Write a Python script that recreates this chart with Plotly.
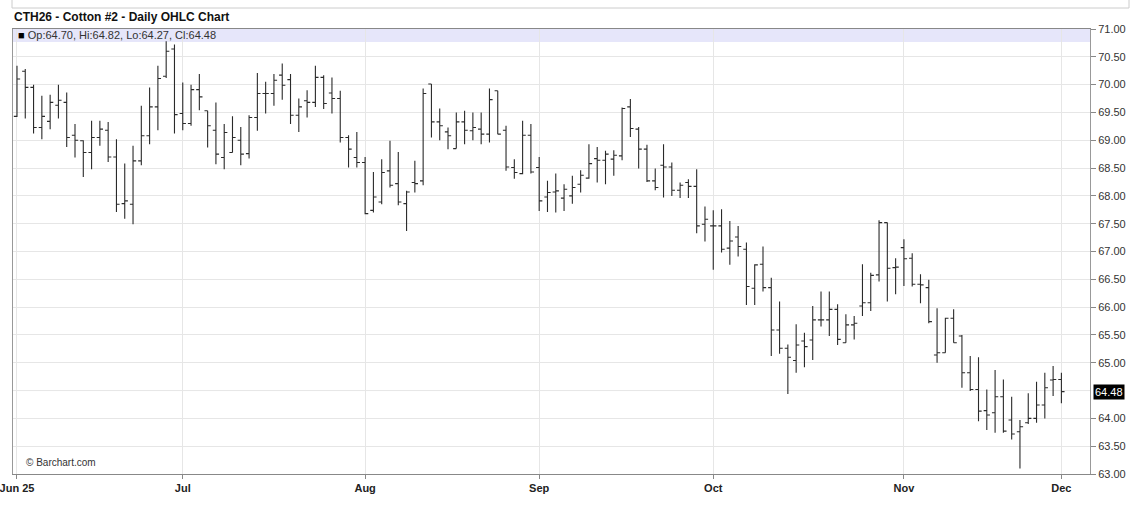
import pandas as pd
import plotly.graph_objects as go

# ---- data -------------------------------------------------------------
holidays = ["2025-06-19", "2025-07-04", "2025-09-01", "2025-11-27"]
dates = [d.strftime("%Y-%m-%d") for d in pd.bdate_range("2025-06-02", "2025-12-01")
         if d.strftime("%Y-%m-%d") not in holidays]

opens = [69.43, 70.24, 69.95, 69.23, 69.34, 69.63, 69.68, 69.09, 68.99, 68.78,
         69.05, 69.18, 68.70, 67.86, 67.85, 68.63, 69.08, 69.60, 70.15, 70.64,
         69.48, 69.30, 69.91, 69.53, 69.18, 68.69, 68.78, 69.00, 68.76, 69.41,
         69.84, 69.84, 70.17, 70.09, 69.45, 69.71, 69.68, 70.13, 69.85, 69.75,
         69.05, 68.69, 68.60, 67.74, 67.89, 68.45, 68.22, 67.86, 68.24, 68.27,
         70.01, 69.33, 69.15, 68.85, 69.33, 69.17, 69.20, 69.11, 69.89, 69.18,
         68.51, 68.40, 69.09, 68.51, 67.98, 68.07, 67.96, 68.00, 68.21, 68.32,
         68.67, 68.64, 68.66, 68.72, 69.60, 69.20, 68.84, 68.27, 68.55, 68.52,
         68.10, 68.24, 68.17, 67.49, 67.46, 67.46, 67.06, 67.26, 67.04, 66.34,
         66.77, 66.35, 65.59, 65.26, 65.04, 65.39, 65.41, 65.77, 65.77, 65.96,
         65.36, 65.68, 66.02, 66.08, 66.58, 67.52, 66.71, 67.07, 66.88, 66.41,
         66.35, 65.14, 65.18, 65.80, 65.48, 64.82, 64.52, 64.14, 64.10, 64.39,
         63.97, 63.76, 63.92, 64.00, 64.24, 64.69, 64.70]

highs = [70.34, 70.28, 70.00, 69.80, 69.82, 70.00, 69.86, 69.29, 69.00, 69.35,
         69.35, 69.33, 69.02, 68.58, 68.90, 69.62, 69.95, 70.34, 70.78, 70.72,
         70.04, 70.00, 70.19, 69.53, 69.68, 69.29, 69.43, 69.24, 69.45, 70.21,
         70.05, 70.19, 70.38, 70.19, 69.75, 69.90, 70.34, 70.17, 70.13, 69.89,
         69.09, 69.15, 68.70, 68.43, 68.66, 68.99, 68.79, 68.09, 68.63, 69.93,
         70.01, 69.57, 69.23, 69.50, 69.53, 69.50, 69.50, 69.93, 69.89, 69.26,
         68.66, 69.35, 69.29, 68.70, 68.27, 68.40, 68.21, 68.36, 68.46, 68.93,
         68.88, 68.81, 68.82, 69.59, 69.74, 69.24, 68.92, 68.49, 68.93, 68.60,
         68.24, 68.30, 68.48, 67.81, 67.74, 67.76, 67.55, 67.46, 67.16, 66.77,
         67.09, 66.53, 66.10, 65.33, 65.69, 65.54, 66.02, 66.28, 66.28, 66.05,
         65.87, 65.84, 66.77, 66.62, 67.56, 67.52, 66.88, 67.22, 66.97, 66.59,
         66.49, 65.98, 65.81, 65.96, 65.50, 65.12, 65.10, 64.52, 64.87, 64.70,
         64.39, 63.97, 64.45, 64.66, 64.82, 64.94, 64.82]

lows = [69.42, 69.39, 69.12, 69.02, 69.20, 69.39, 68.88, 68.69, 68.34, 68.48,
        68.90, 68.61, 67.71, 67.59, 67.49, 68.55, 68.93, 69.18, 70.12, 69.12,
        69.18, 69.26, 69.54, 68.87, 68.57, 68.48, 68.78, 68.55, 68.67, 69.17,
        69.48, 69.62, 69.73, 69.29, 69.15, 69.41, 69.60, 69.56, 69.48, 68.96,
        68.51, 68.51, 67.67, 67.70, 67.85, 68.15, 67.83, 67.37, 68.06, 68.19,
        69.05, 69.00, 68.84, 68.85, 68.93, 69.00, 68.93, 68.96, 69.11, 68.45,
        68.31, 68.39, 68.40, 67.73, 67.71, 67.70, 67.73, 67.86, 68.06, 68.31,
        68.24, 68.21, 68.36, 68.64, 69.06, 68.49, 68.25, 68.10, 67.97, 68.00,
        67.96, 67.96, 67.33, 67.18, 66.67, 66.98, 66.76, 66.91, 66.04, 66.04,
        66.28, 65.12, 65.16, 64.44, 64.82, 64.92, 65.05, 65.65, 65.48, 65.32,
        65.36, 65.42, 65.84, 65.93, 66.46, 66.10, 66.23, 66.38, 66.37, 66.07,
        65.71, 65.00, 65.18, 65.36, 64.55, 64.49, 63.95, 63.79, 63.74, 63.74,
        63.62, 63.10, 63.90, 63.92, 64.00, 64.40, 64.27]

closes = [70.10, 69.95, 69.23, 69.43, 69.68, 69.72, 69.05, 69.00, 68.78, 69.05,
          69.20, 68.70, 67.85, 67.91, 68.63, 69.08, 69.60, 70.11, 70.60, 69.46,
          69.30, 69.91, 69.78, 69.26, 68.75, 69.14, 69.05, 68.75, 69.41, 69.84,
          69.84, 70.08, 69.99, 69.45, 69.60, 69.68, 70.13, 69.66, 69.75, 69.05,
          68.84, 68.60, 67.68, 67.98, 68.42, 68.19, 67.89, 68.07, 68.22, 69.84,
          69.33, 69.26, 69.08, 69.33, 69.18, 69.23, 69.11, 69.73, 69.11, 68.52,
          68.42, 69.09, 68.43, 67.91, 68.06, 68.09, 68.12, 68.15, 68.37, 68.58,
          68.64, 68.75, 68.73, 69.57, 69.21, 68.84, 68.27, 68.15, 68.52, 68.10,
          68.19, 68.17, 67.46, 67.58, 67.46, 67.04, 67.19, 67.09, 66.37, 66.76,
          66.35, 65.59, 65.26, 65.10, 65.32, 65.29, 65.77, 65.77, 65.96, 65.42,
          65.68, 65.71, 66.08, 66.57, 67.52, 66.70, 66.72, 66.87, 66.41, 66.40,
          65.74, 65.18, 65.80, 65.36, 64.82, 64.52, 64.13, 64.06, 64.39, 63.77,
          63.72, 63.85, 64.00, 64.24, 64.55, 64.70, 64.48]

tick_dates = ["2025-06-02", "2025-07-01", "2025-08-01", "2025-09-02",
              "2025-10-01", "2025-11-03", "2025-12-01"]
tick_labels = ["Jun 25", "Jul", "Aug", "Sep", "Oct", "Nov", "Dec"]
price_ticks = [63.0, 63.5, 64.0, 64.5, 65.0, 65.5, 66.0, 66.5, 67.0,
               67.5, 68.0, 68.5, 69.0, 69.5, 70.0, 70.5, 71.0]

title_text = "CTH26 - Cotton #2 - Daily OHLC Chart"
credit_text = "© Barchart.com"

# ---- figure -----------------------------------------------------------
FONT = "Liberation Sans, Arial, Helvetica, sans-serif"
W, H = 1147, 513
ML, MR, MT, MB = 13, 57, 29, 39
plot_w = W - ML - MR
plot_h = H - MT - MB

n = min(len(dates), len(opens))
dates = dates[:n]
last_o, last_h, last_l, last_c = opens[n - 1], highs[n - 1], lows[n - 1], closes[n - 1]

fig = go.Figure(go.Ohlc(
    x=dates, open=opens[:n], high=highs[:n], low=lows[:n], close=closes[:n],
    increasing=dict(line=dict(color="#2a2a2a", width=1.1)),
    decreasing=dict(line=dict(color="#2a2a2a", width=1.1)),
    tickwidth=0.38, hoverinfo="skip", showlegend=False,
))

# the last-price box hides the neighbouring tick label, as in the reference
hidden = [v for v in price_ticks if abs(v - last_c) < 0.12]
shown = [v for v in price_ticks if v not in hidden]

band_frac = 13 / plot_h
legend_text = ("<span style='color:#000'>■</span> Op:%.2f, Hi:%.2f, Lo:%.2f, Cl:%.2f"
               % (last_o, last_h, last_l, last_c))

shapes = [
    dict(type="rect", xref="paper", yref="paper", x0=0, x1=1,
         y0=1 - band_frac, y1=1, fillcolor="#e6e6fa",
         line=dict(width=0), layer="below"),
    dict(type="rect", xref="paper", yref="paper",
         x0=(12 - ML) / plot_w, x1=(1129 - ML) / plot_w,
         y0=1 + (MT - 8) / plot_h, y1=1 + (MT + 10) / plot_h,
         line=dict(color="#cccccc", width=1), fillcolor="rgba(0,0,0,0)"),
]
for v in hidden:
    shapes.append(dict(type="line", xref="paper", yref="y", x0=0, x1=1, y0=v, y1=v,
                       line=dict(color="#e6e6e6", width=1), layer="below"))

fig.update_layout(
    width=W, height=H,
    margin=dict(l=ML, r=MR, t=MT, b=MB, autoexpand=False),
    paper_bgcolor="white", plot_bgcolor="white",
    font=dict(family=FONT, size=11, color="#333"),
    xaxis=dict(
        type="category", categoryorder="array", categoryarray=dates,
        range=[-0.48, n - 1 + 3.45], automargin=False,
        tickmode="array", tickvals=tick_dates,
        ticktext=["<b>%s</b>" % t for t in tick_labels],
        tickfont=dict(family=FONT, size=11, color="#222"),
        ticks="outside", ticklen=4, tickcolor="#888",
        showgrid=True, gridcolor="#e6e6e6", gridwidth=1,
        showline=True, linecolor="#888", linewidth=1, mirror=True,
        rangeslider=dict(visible=False), fixedrange=True,
    ),
    yaxis=dict(
        side="right", range=[63, 71], automargin=False,
        tickmode="array", tickvals=shown,
        ticktext=["%.2f" % v for v in shown],
        tickfont=dict(family=FONT, size=11, color="#333"),
        ticks="outside", ticklen=5, tickcolor="#888",
        showgrid=True, gridcolor="#e6e6e6", gridwidth=1,
        showline=True, linecolor="#999", linewidth=1, mirror=True,
        zeroline=False, fixedrange=True,
    ),
    shapes=shapes,
    annotations=[
        dict(text="<b>%s</b>" % title_text, xref="paper", yref="paper",
             x=(12 - ML) / plot_w, y=1 + (MT - 17) / plot_h,
             xanchor="left", yanchor="middle", showarrow=False,
             font=dict(family=FONT, size=12, color="#111")),
        dict(text=legend_text, xref="paper", yref="paper",
             x=0.003, y=1 - band_frac / 2, xanchor="left", yanchor="middle",
             showarrow=False, font=dict(family=FONT, size=11, color="#333")),
        dict(text=credit_text, xref="paper", yref="paper",
             x=(24 - ML) / plot_w, y=(474 - 462) / plot_h,
             xanchor="left", yanchor="middle", showarrow=False,
             font=dict(family=FONT, size=10, color="#333")),
        dict(text="%.2f" % last_c, xref="paper", yref="y",
             x=1, y=last_c, xanchor="left", yanchor="middle",
             xshift=3, showarrow=False, bgcolor="#000", borderpad=1,
             font=dict(family=FONT, size=11, color="#fff")),
    ],
)

fig.write_html("out.html",
               config={"displayModeBar": False, "staticPlot": False},
               post_script="document.body.style.margin='0px';document.body.style.padding='0px';")
